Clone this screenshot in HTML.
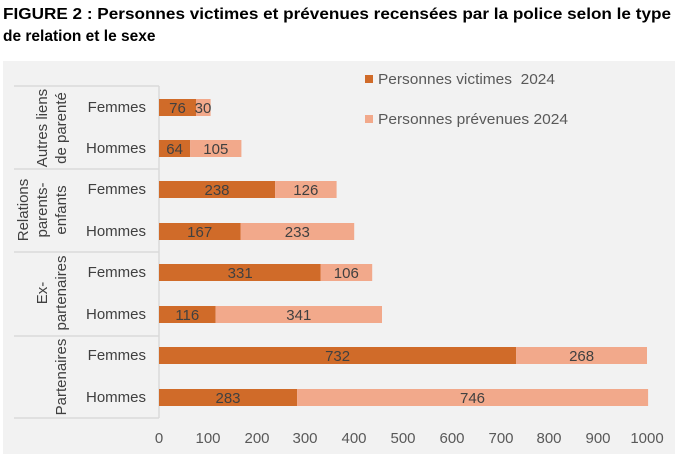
<!DOCTYPE html>
<html><head><meta charset="utf-8"><style>
html,body{margin:0;padding:0;background:#fff;}
svg{display:block;font-family:"Liberation Sans",Arial,sans-serif;}
</style></head><body>
<svg width="689" height="454" viewBox="0 0 689 454" xmlns="http://www.w3.org/2000/svg">
<text x="3" y="19" font-size="15.5" font-weight="bold" fill="#000" textLength="668" lengthAdjust="spacingAndGlyphs">FIGURE 2 : Personnes victimes et prévenues recensées par la police selon le type</text>
<text x="3" y="41" font-size="15.5" font-weight="bold" fill="#000">de relation et le sexe</text>
<rect x="3" y="61" width="672" height="393" fill="#f2f2f2"/>
<g stroke="#d9d9d9" stroke-width="1.5">
<line x1="14" y1="86" x2="159" y2="86"/>
<line x1="14" y1="169" x2="159" y2="169"/>
<line x1="14" y1="252" x2="159" y2="252"/>
<line x1="14" y1="336" x2="159" y2="336"/>
<line x1="14" y1="418" x2="159" y2="418"/>
<line x1="159" y1="86" x2="159" y2="418"/>
</g>
<g font-size="15" fill="#404040">
<g text-anchor="end">
<text x="146" y="112">Femmes</text><text x="146" y="153">Hommes</text>
<text x="146" y="194">Femmes</text><text x="146" y="236">Hommes</text>
<text x="146" y="277">Femmes</text><text x="146" y="319">Hommes</text>
<text x="146" y="360">Femmes</text><text x="146" y="402">Hommes</text>
</g>
<g text-anchor="middle">
<text transform="translate(47,128) rotate(-90)">Autres liens</text>
<text transform="translate(66,128) rotate(-90)">de parenté</text>
<text transform="translate(28,210) rotate(-90)">Relations</text>
<text transform="translate(47,210) rotate(-90)">parents-</text>
<text transform="translate(66,210) rotate(-90)">enfants</text>
<text transform="translate(47,293) rotate(-90)">Ex-</text>
<text transform="translate(66,293) rotate(-90)">partenaires</text>
<text transform="translate(66,377) rotate(-90)">Partenaires</text>
</g>
</g>
<g>
<rect x="159" y="99" width="37" height="17" fill="#d06b29"/><rect x="196" y="99" width="14.6" height="17" fill="#f2a98b"/>
<rect x="159" y="140" width="31.2" height="17" fill="#d06b29"/><rect x="190.2" y="140" width="51.2" height="17" fill="#f2a98b"/>
<rect x="159" y="181" width="116.1" height="17" fill="#d06b29"/><rect x="275.1" y="181" width="61.5" height="17" fill="#f2a98b"/>
<rect x="159" y="223" width="81.5" height="17" fill="#d06b29"/><rect x="240.5" y="223" width="113.7" height="17" fill="#f2a98b"/>
<rect x="159" y="264" width="161.5" height="17" fill="#d06b29"/><rect x="320.5" y="264" width="51.7" height="17" fill="#f2a98b"/>
<rect x="159" y="306" width="56.6" height="17" fill="#d06b29"/><rect x="215.6" y="306" width="166.4" height="17" fill="#f2a98b"/>
<rect x="159" y="347" width="357.2" height="17" fill="#d06b29"/><rect x="516.2" y="347" width="130.8" height="17" fill="#f2a98b"/>
<rect x="159" y="389" width="138.1" height="17" fill="#d06b29"/><rect x="297.1" y="389" width="351" height="17" fill="#f2a98b"/>
</g>
<g font-size="15" fill="#404040" text-anchor="middle">
<text x="177.5" y="113">76</text><text x="203" y="113">30</text>
<text x="174.6" y="154">64</text><text x="215.8" y="154">105</text>
<text x="217" y="195">238</text><text x="305.8" y="195">126</text>
<text x="199.7" y="237">167</text><text x="297.3" y="237">233</text>
<text x="240.2" y="278">331</text><text x="346.3" y="278">106</text>
<text x="187.3" y="320">116</text><text x="298.8" y="320">341</text>
<text x="337.6" y="361">732</text><text x="581.6" y="361">268</text>
<text x="228" y="403">283</text><text x="472.5" y="403">746</text>
</g>
<g font-size="15" fill="#595959" text-anchor="middle">
<text x="159" y="443">0</text><text x="208" y="443">100</text><text x="257" y="443">200</text>
<text x="305" y="443">300</text><text x="354" y="443">400</text><text x="403" y="443">500</text>
<text x="452" y="443">600</text><text x="501" y="443">700</text><text x="549" y="443">800</text>
<text x="598" y="443">900</text><text x="647" y="443">1000</text>
</g>
<rect x="365" y="75" width="8" height="8" fill="#d06b29"/>
<text x="378" y="84" font-size="15" fill="#595959" xml:space="preserve" textLength="177" lengthAdjust="spacingAndGlyphs">Personnes victimes  2024</text>
<rect x="365" y="115" width="8" height="8" fill="#f2a98b"/>
<text x="378" y="124" font-size="15" fill="#595959" textLength="190" lengthAdjust="spacingAndGlyphs">Personnes prévenues 2024</text>
</svg>
</body></html>
